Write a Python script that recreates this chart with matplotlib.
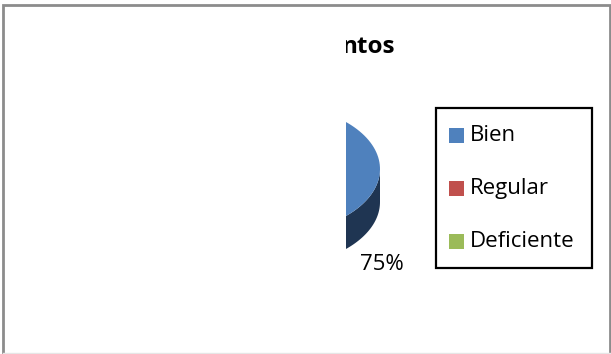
import numpy as np
import matplotlib.pyplot as plt
from matplotlib.patches import Polygon, Rectangle

categorias = ['Bien', 'Regular', 'Deficiente']
porcentajes = [75, 20, 5]
colores = ['#4F81BD', '#C0504D', '#9BBB59']
lados = ['#1F3552', '#7A2E2C', '#5F7734']
titulo = 'ntos'

W, H = 611, 354
fig = plt.figure(figsize=(W / 100, H / 100), dpi=100)
ax = fig.add_axes([0, 0, 1, 1])
ax.set_xlim(0, W)
ax.set_ylim(H, 0)
ax.axis('off')

# geometria del pastel 3D (en pixeles)
cx, cy = 270, 169
a, b = 110, 65
prof = 33


def borde(t0, t1, dy=0):
    t = np.radians(np.linspace(t0, t1, 120))
    return np.column_stack([cx + a * np.cos(t), cy - b * np.sin(t) + dy])


total = sum(porcentajes)
inicio = 90.0
angulos = []
for p in porcentajes:
    fin = inicio - p / total * 360.0
    angulos.append((inicio, fin))
    inicio = fin

# caras laterales (solo la mitad frontal)
for (t0, t1), lc in zip(angulos, lados):
    hi, lo = max(t0, t1), min(t0, t1)
    for k in (-1, 0, 1):
        s0 = max(lo, -180 + 360 * k)
        s1 = min(hi, 0 + 360 * k)
        if s1 > s0:
            arriba = borde(s0, s1)
            abajo = borde(s1, s0, prof)
            ax.add_patch(Polygon(np.vstack([arriba, abajo]), closed=True,
                                 facecolor=lc, edgecolor='none', zorder=1))

# cara superior
for (t0, t1), c in zip(angulos, colores):
    pts = np.vstack([[cx, cy], borde(t0, t1)])
    ax.add_patch(Polygon(pts, closed=True, facecolor=c, edgecolor='none', zorder=2))

# etiquetas de porcentaje
for (t0, t1), p in zip(angulos, porcentajes):
    m = np.radians((t0 + t1) / 2)
    lx = cx + 1.44 * a * np.cos(m)
    ly = cy - 1.43 * b * np.sin(m) + prof * 0.9
    ax.text(lx, ly, f'{p}%', ha='center', va='center', fontsize=16,
            family='Open Sans', color='black', zorder=3)

ax.text(395, 47, titulo, ha='right', va='center', fontsize=17.5,
        fontweight='bold', family='Open Sans', zorder=3)

# zona oculta a la izquierda
ax.add_patch(Rectangle((4, 5), 342, H - 8, facecolor='white', edgecolor='none', zorder=4))

# leyenda
ax.add_patch(Rectangle((436, 108), 156, 160, facecolor='white', edgecolor='black',
                       linewidth=1.6, zorder=5))
for i, (nombre, c) in enumerate(zip(categorias, colores)):
    y = 135.5 + i * 53
    ax.add_patch(Rectangle((449, y - 7.5), 15, 15, facecolor=c, edgecolor='none', zorder=6))
    ax.text(470, y, nombre, ha='left', va='center', fontsize=16,
            family='Open Sans', zorder=6)

# marco
ax.plot([3, 3, 609.5, 609.5], [H, 4.5, 4.5, H], color='#8C8C8C', linewidth=2,
        solid_joinstyle='miter', zorder=7)
ax.plot([3, 609.5], [352.5, 352.5], color='#E6E6E6', linewidth=1, zorder=7)

fig.savefig('out.png', dpi=100)
